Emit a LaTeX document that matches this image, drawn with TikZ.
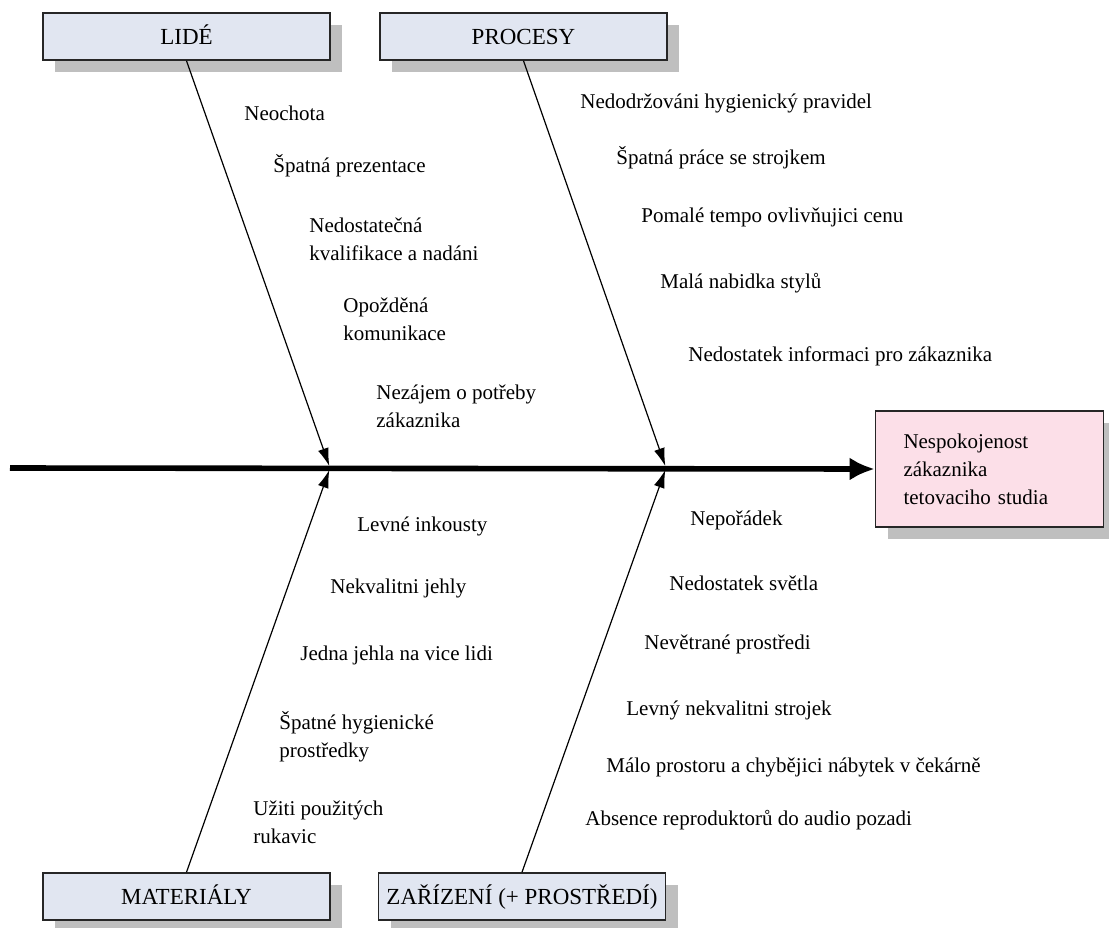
\documentclass[tikz,border=0pt]{standalone}
\usepackage{fontspec}
\setmainfont{Liberation Serif}
\usetikzlibrary{arrows.meta,shadows}
\definecolor{catfill}{RGB}{225,230,241}
\definecolor{effectfill}{RGB}{252,223,232}

\begin{document}
\begin{tikzpicture}[x=0.5pt,y=-0.5pt,>=latex,
        category/.style={draw=black!85,line width=0.8pt,fill=catfill,minimum width=143.5pt,minimum height=23.5pt,inner sep=2pt,text height=8.5pt,text depth=1pt,font=\fontsize{11.5}{14}\selectfont,drop shadow={shadow xshift=6pt,shadow yshift=-6pt,fill=black!25,opacity=1}},
        effectbox/.style={draw=black!85,line width=0.8pt,fill=effectfill,minimum height=58pt,text width=86pt,inner xsep=14pt,align=left,font=\fontsize{10.5}{14}\selectfont,drop shadow={shadow xshift=6pt,shadow yshift=-6pt,fill=black!25,opacity=1}},
        cause/.style={anchor=west,align=left,inner sep=0pt,font=\fontsize{10.5}{14}\selectfont},
        bone/.style={line width=0.6pt,-{Latex[length=9pt,width=5.5pt]},shorten >=1pt}]
        \useasboundingbox (0,0) rectangle (1109,927);
        \node[category] (lide) at (186.5,36.5) {LIDÉ};
        \node[category] (procesy) at (523.5,36.5) {PROCESY};
        \node[category] (materialy) at (186.5,896.5) {MATERIÁLY};
        \node[category] (zarizeni) at (522,896.5) {ZAŘÍZENÍ (+ PROSTŘEDÍ)};
        \node[effectbox] (effect) at (989.5,469) {Nespokojenost\\zákaznika\\tetovaciho studia};
        \coordinate (tail) at (10,468);
        \coordinate (jl) at (330,468);
        \coordinate (jp) at (666,468);
        \draw[line width=2.8pt,-{Latex[length=12.5pt,width=11.5pt]}] (tail) -- (effect.west);
        \draw[bone] (lide.south) -- (jl);
        \draw[bone] (procesy.south) -- (jp);
        \draw[bone] (materialy.north) -- (jl);
        \draw[bone] (zarizeni.north) -- (jp);
        \node[cause] (l1) at (244,113) {Neochota};
        \node[cause] (l2) at (273,166) {Špatná prezentace};
        \node[cause] (l3) at (309,239) {Nedostatečná\\kvalifikace a nadáni};
        \node[cause] (l4) at (343,319) {Opožděná\\komunikace};
        \node[cause] (l5) at (376,406) {Nezájem o potřeby\\zákaznika};
        \node[cause] (p1) at (580,103) {Nedodržováni hygienický pravidel};
        \node[cause] (p2) at (616,158) {Špatná práce se strojkem};
        \node[cause] (p3) at (641,217) {Pomalé tempo ovlivňujici cenu};
        \node[cause] (p4) at (660,283) {Malá nabidka stylů};
        \node[cause] (p5) at (688,356) {Nedostatek informaci pro zákaznika};
        \node[cause] (m1) at (357,526) {Levné inkousty};
        \node[cause] (m2) at (330,588) {Nekvalitni jehly};
        \node[cause] (m3) at (300,655) {Jedna jehla na vice lidi};
        \node[cause] (m4) at (279,737) {Špatné hygienické\\prostředky};
        \node[cause] (m5) at (253,822) {Užiti použitých\\rukavic};
        \node[cause] (z1) at (690,520) {Nepořádek};
        \node[cause] (z2) at (669,583) {Nedostatek světla};
        \node[cause] (z3) at (644,644) {Nevětrané prostředi};
        \node[cause] (z4) at (626,710) {Levný nekvalitni strojek};
        \node[cause] (z5) at (606,767) {Málo prostoru a chybějici nábytek v čekárně};
        \node[cause] (z6) at (585,820) {Absence reproduktorů do audio pozadi};
    \end{tikzpicture}
\end{document}
